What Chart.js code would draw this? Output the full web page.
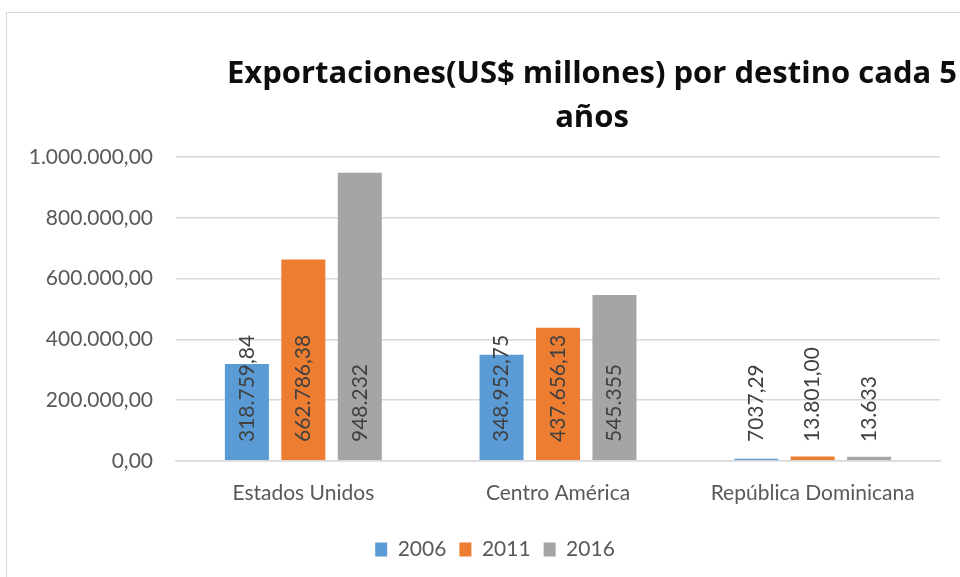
<!DOCTYPE html>
<html lang="es">
<head>
    <meta charset="UTF-8">
    <title>Exportaciones por destino</title>
    <script src="https://cdn.jsdelivr.net/npm/chart.js"></script>
    <style>
        html, body { margin: 0; padding: 0; background: #fff; overflow: hidden; }
        .wrap { position: relative; width: 960px; height: 577px; }
        .frame {
            position: absolute; left: 6px; top: 12px; width: 1000px; height: 600px;
            border-left: 1.5px solid #d9d9d9; border-top: 1.5px solid #d9d9d9;
        }
        canvas { position: absolute; left: 0; top: 0; }
    </style>
</head>
<body>
    <div class="wrap">
        <div class="frame"></div>
        <canvas id="chartExport" width="960" height="577"></canvas>
    </div>

    <script>
        // Datos del gráfico
        const destinos = ['Estados Unidos', 'Centro América', 'República Dominicana'];
        const anios = ['2006', '2011', '2016'];

        const valores2006 = [318759.84, 348952.75, 7037.29];
        const valores2011 = [662786.38, 437656.13, 13801.00];
        const valores2016 = [948232, 545355, 13633];

        // Etiquetas de datos tal como aparecen en el gráfico
        const etiquetas2006 = ['318.759,84', '348.952,75', '7037,29'];
        const etiquetas2011 = ['662.786,38', '437.656,13', '13.801,00'];
        const etiquetas2016 = ['948.232', '545.355', '13.633'];

        // Etiquetas del eje Y
        const ticksY = ['0,00', '200.000,00', '400.000,00', '600.000,00', '800.000,00', '1.000.000,00'];

        const tituloLineas = ['Exportaciones(US$ millones) por destino cada 5', 'años'];

        const colores = ['#5B9BD5', '#ED7D31', '#A5A5A5'];
        const FUENTE = 'Lato, "Open Sans", sans-serif';

        // Plugin: etiquetas verticales en la base de cada barra
        const etiquetasBarras = {
            id: 'etiquetasBarras',
            afterDatasetsDraw(chart) {
                const ctx = chart.ctx;
                chart.data.datasets.forEach((ds, i) => {
                    const meta = chart.getDatasetMeta(i);
                    meta.data.forEach((bar, j) => {
                        ctx.save();
                        ctx.translate(bar.x, bar.base - 18);
                        ctx.rotate(-Math.PI / 2);
                        ctx.font = '21px ' + FUENTE;
                        ctx.fillStyle = '#404040';
                        ctx.textAlign = 'left';
                        ctx.textBaseline = 'middle';
                        ctx.fillText(ds.etiquetas[j], 0, 0);
                        ctx.restore();
                    });
                });
            }
        };

        // Plugin: título desplazado (como en el original)
        const tituloDesplazado = {
            id: 'tituloDesplazado',
            afterDraw(chart) {
                const ctx = chart.ctx;
                const cx = (chart.chartArea.left + chart.chartArea.right) / 2 + 34;
                ctx.save();
                ctx.font = 'bold 31px "Open Sans", sans-serif';
                ctx.fillStyle = '#0d0d0d';
                ctx.textAlign = 'center';
                ctx.textBaseline = 'alphabetic';
                tituloLineas.forEach((linea, k) => {
                    ctx.fillText(linea, cx, 83 + k * 44);
                });
                ctx.restore();
            }
        };

        // Plugin: la leyenda del original está algo más a la derecha
        const moverLeyenda = {
            id: 'moverLeyenda',
            afterLayout(chart) {
                chart.legend.left += 22;
                chart.legend.right += 22;
            }
        };

        const ctx = document.getElementById('chartExport').getContext('2d');
        new Chart(ctx, {
            type: 'bar',
            data: {
                labels: destinos,
                datasets: [
                    { label: anios[0], data: valores2006, etiquetas: etiquetas2006, backgroundColor: colores[0] },
                    { label: anios[1], data: valores2011, etiquetas: etiquetas2011, backgroundColor: colores[1] },
                    { label: anios[2], data: valores2016, etiquetas: etiquetas2016, backgroundColor: colores[2] }
                ]
            },
            options: {
                responsive: false,
                animation: false,
                layout: { padding: { top: 157, right: 20, left: 6, bottom: 7 } },
                datasets: {
                    bar: { categoryPercentage: 0.665, barPercentage: 0.78, borderWidth: 0 }
                },
                plugins: {
                    title: { display: false },
                    tooltip: { enabled: false },
                    legend: {
                        position: 'bottom',
                        labels: {
                            font: { family: FUENTE, size: 21 },
                            color: '#595959',
                            boxWidth: 12,
                            boxHeight: 14,
                            padding: 13
                        }
                    }
                },
                scales: {
                    x: {
                        grid: { display: false, drawTicks: false },
                        border: { color: '#d9d9d9', width: 1.5 },
                        ticks: {
                            font: { family: FUENTE, size: 21 },
                            color: '#595959',
                            padding: 20
                        }
                    },
                    y: {
                        min: 0,
                        max: 1000000,
                        afterFit(scale) { scale.width = 170; },
                        grid: { color: '#d9d9d9', lineWidth: 1.5, drawTicks: false },
                        border: { display: false },
                        ticks: {
                            stepSize: 200000,
                            font: { family: FUENTE, size: 21 },
                            color: '#595959',
                            padding: 23,
                            callback: (v, i) => ticksY[i]
                        }
                    }
                }
            },
            plugins: [etiquetasBarras, tituloDesplazado, moverLeyenda]
        });
    </script>
</body>
</html>
